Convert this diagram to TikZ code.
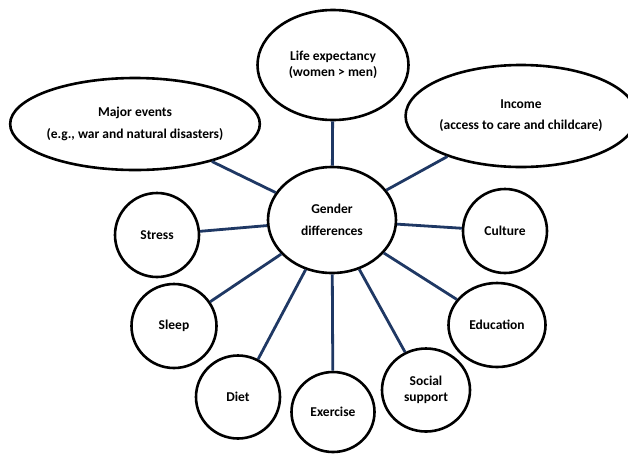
\documentclass[tikz,border=0pt]{standalone}
\usepackage{fontspec}
\setmainfont{Carlito}
\usetikzlibrary{shapes.geometric}
\definecolor{linkblue}{RGB}{31,56,100}

\begin{document}
\begin{tikzpicture}[x=1pt,y=-1pt,
  topic/.style={draw,ellipse,line width=2.6pt,inner sep=0pt,align=center,
    font=\fontsize{13.5}{16}\selectfont\bfseries},
  link/.style={draw=linkblue,line width=2.8pt}]
\useasboundingbox (0,0) rectangle (628,453);
% hub in the middle
\node[topic,minimum width=128pt,minimum height=106pt] (gender) at (332,220) {Gender\\[6pt]differences};
% upper ring
\node[topic,minimum width=151pt,minimum height=110pt] (life) at (333,65) {Life expectancy\\(women > men)};
\node[topic,minimum width=244pt,minimum height=92pt] (major) at (135,124) {Major events\\[6pt](e.g., war and natural disasters)};
\node[topic,minimum width=212pt,minimum height=102pt] (income) at (521,116) {Income\\[5pt](access to care and childcare)};
% small circles round the bottom
\node[topic,minimum width=84pt,minimum height=84pt] (stress) at (157,235) {Stress};
\node[topic,minimum width=85pt,minimum height=84pt] (sleep) at (174,326) {Sleep};
\node[topic,minimum width=84pt,minimum height=83pt] (diet) at (238,397) {Diet};
\node[topic,minimum width=83pt,minimum height=80pt] (exercise) at (333,412) {Exercise};
\node[topic,minimum width=88pt,minimum height=83pt] (social) at (426,390) {Social\\support};
\node[topic,minimum width=84pt,minimum height=84pt] (culture) at (505,231) {Culture};
\node[topic,minimum width=97pt,minimum height=84pt] (education) at (497,325) {Education};
\foreach \t in {life,major,income,stress,sleep,diet,exercise,social,culture,education}
  \draw[link] (gender) -- (\t);
\end{tikzpicture}
\end{document}
